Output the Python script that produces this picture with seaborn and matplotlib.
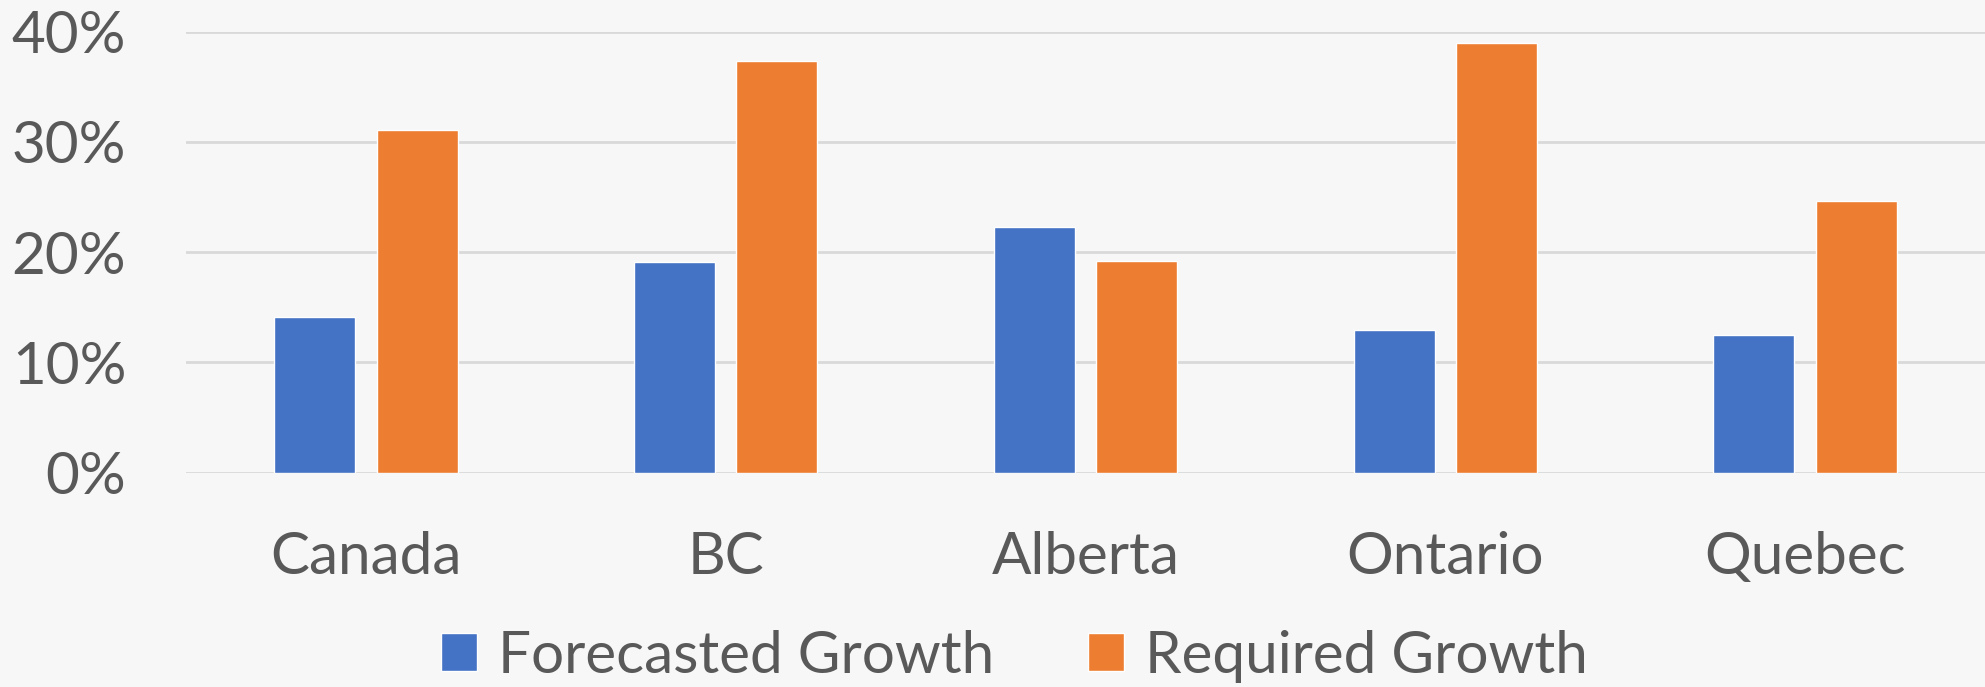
import matplotlib
matplotlib.use("Agg")
import matplotlib.pyplot as plt
import seaborn as sns
import pandas as pd
from matplotlib.ticker import FuncFormatter

categories = ["Canada", "BC", "Alberta", "Ontario", "Quebec"]
forecasted = [14.1, 19.1, 22.3, 12.9, 12.5]
required = [31.1, 37.3, 19.2, 39.0, 24.6]
series_names = ["Forecasted Growth", "Required Growth"]
yticks = [0, 10, 20, 30, 40]

df = pd.DataFrame({
    "Region": categories * 2,
    "Series": [series_names[0]] * len(categories) + [series_names[1]] * len(categories),
    "Value": forecasted + required,
})

sns.set_theme(style="white")
plt.rcParams["font.family"] = ["Lato", "DejaVu Sans"]

bg = "#F7F7F7"
txt = "#595959"
fig = plt.figure(figsize=(19.85, 6.87), dpi=100, facecolor=bg)
ax = fig.add_axes([0.0937, 0.312, 0.9063, 0.642])
ax.set_facecolor(bg)

sns.barplot(data=df, x="Region", y="Value", hue="Series", order=categories,
            hue_order=series_names, palette=["#4472C4", "#ED7D31"],
            width=0.57, gap=0.21, ax=ax, legend=True, saturation=1)

ax.set_xlim(-0.5, 4.5)
ax.set_ylim(0, 40)
ax.set_yticks(yticks)
ax.yaxis.set_major_formatter(FuncFormatter(lambda v, p: f"{int(v)}%"))
ax.grid(axis="y", color="#D9D9D9", linewidth=2)
ax.set_axisbelow(True)
for s in ax.spines.values():
    s.set_visible(False)
ax.tick_params(axis="y", length=0, pad=43, labelsize=42, labelcolor=txt)
ax.tick_params(axis="x", length=0, pad=42, labelsize=42, labelcolor=txt)
ax.set_xlabel("")
ax.set_ylabel("")

handles, labels = ax.get_legend_handles_labels()
ax.get_legend().remove()
fig.legend(handles, labels, loc="center", bbox_to_anchor=(0.511, 0.045), ncol=2,
           frameon=False, fontsize=42, labelcolor=txt, handlelength=0.62,
           handleheight=0.64, handletextpad=0.36, columnspacing=1.6)

fig.savefig("out.png", dpi=100, facecolor=bg)
